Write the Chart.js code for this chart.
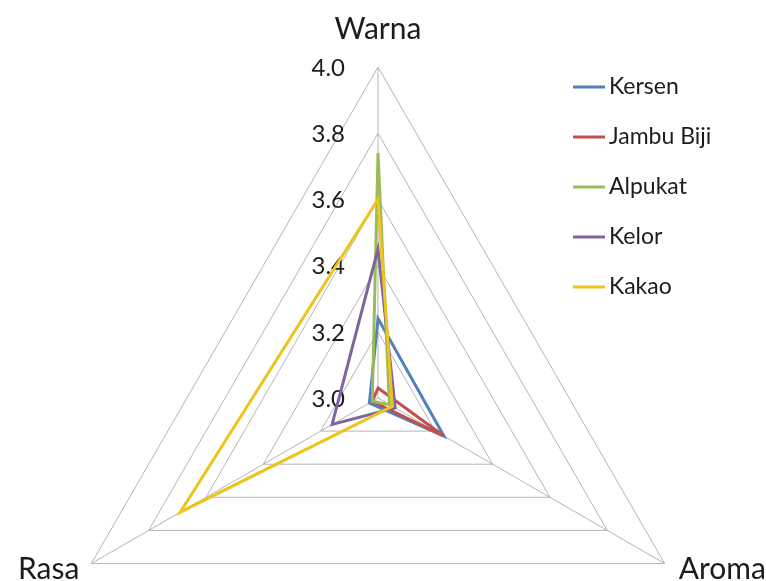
<!DOCTYPE html>
<html>
<head>
<meta charset="utf-8">
<script src="https://cdn.jsdelivr.net/npm/chart.js@4.4.0/dist/chart.umd.min.js"></script>
<style>
    html, body { margin: 0; padding: 0; background: #fff; overflow: hidden; }
    #wrap { position: relative; width: 766px; height: 581px; overflow: hidden; }
    canvas { position: absolute; left: 0; top: 0; }
</style>
</head>
<body>
<div id="wrap">
    <canvas id="radarChart" width="766" height="729"></canvas>
</div>
<script>
// Axis categories (clockwise from top)
const categories = ['Warna', 'Aroma', 'Rasa'];

// Series values, in the same order as categories
const seriesNames = ['Kersen', 'Jambu Biji', 'Alpukat', 'Kelor', 'Kakao'];
const kersen = [3.24, 3.23, 3.03];
const jambuBiji = [3.03, 3.23, 3.02];
const alpukat = [3.74, 3.04, 3.02];
const kelor = [3.45, 3.06, 3.16];
const kakao = [3.60, 3.05, 3.69];

// Radial tick labels
const tickValues = [3.0, 3.2, 3.4, 3.6, 3.8, 4.0];
const tickLabels = ['3.0', '3.2', '3.4', '3.6', '3.8', '4.0'];

const seriesColors = ['#4F81BD', '#C0504D', '#9BBB59', '#8064A2', '#EEC41C'];
const textFont = 'Lato, "Liberation Sans", sans-serif';

const seriesData = [kersen, jambuBiji, alpukat, kelor, kakao];

// Tick labels sit left of the vertical axis
const tickLabelPlugin = {
    id: 'tickLabelPlugin',
    beforeDatasetsDraw(chart) {
        const scale = chart.scales.r;
        const ctx = chart.ctx;
        ctx.save();
        ctx.font = '24px ' + textFont;
        ctx.fillStyle = '#1c1c1c';
        ctx.textAlign = 'right';
        ctx.textBaseline = 'middle';
        tickValues.forEach((v, i) => {
            const d = scale.getDistanceFromCenterForValue(v);
            ctx.fillText(tickLabels[i], scale.xCenter - 33, scale.yCenter - d + 1);
        });
        ctx.restore();
    }
};

// Category names at the outer corners
const axisLabelPlugin = {
    id: 'axisLabelPlugin',
    afterDraw(chart) {
        const scale = chart.scales.r;
        const ctx = chart.ctx;
        ctx.save();
        ctx.font = '30px ' + textFont;
        ctx.fillStyle = '#1c1c1c';
        ctx.textBaseline = 'alphabetic';
        categories.forEach((name, i) => {
            const p = scale.getPointPosition(i, scale.drawingArea);
            if (i === 0) {
                ctx.textAlign = 'center';
                ctx.fillText(name, p.x, p.y - 28);
            } else if (i === 1) {
                ctx.textAlign = 'left';
                ctx.fillText(name, p.x + 14, p.y + 15);
            } else {
                ctx.textAlign = 'right';
                ctx.fillText(name, p.x - 12, p.y + 15);
            }
        });
        ctx.restore();
    }
};

// Legend on the right, like the Excel one
const legendPlugin = {
    id: 'legendPlugin',
    afterDraw(chart) {
        const ctx = chart.ctx;
        ctx.save();
        ctx.font = '23px ' + textFont;
        ctx.textAlign = 'left';
        ctx.textBaseline = 'middle';
        seriesNames.forEach((name, i) => {
            const y = 87 + i * 50;
            ctx.strokeStyle = seriesColors[i];
            ctx.lineWidth = 3;
            ctx.beginPath();
            ctx.moveTo(573, y);
            ctx.lineTo(605, y);
            ctx.stroke();
            ctx.fillStyle = '#1c1c1c';
            ctx.fillText(name, 609, y);
        });
        ctx.restore();
    }
};

const ctx = document.getElementById('radarChart').getContext('2d');

new Chart(ctx, {
    type: 'radar',
    data: {
        labels: categories,
        datasets: seriesNames.map((name, i) => ({
            label: name,
            data: seriesData[i],
            borderColor: seriesColors[i],
            backgroundColor: 'transparent',
            borderWidth: 3,
            pointRadius: 0,
            fill: false,
            tension: 0,
            order: seriesNames.length - i
        }))
    },
    options: {
        responsive: false,
        animation: false,
        layout: {
            padding: { top: 67, left: 47, right: 57, bottom: 0 }
        },
        scales: {
            r: {
                min: 3.0,
                max: 4.0,
                ticks: { stepSize: 0.2, display: false },
                grid: { color: '#B5B5B5', lineWidth: 1 },
                angleLines: { color: '#B5B5B5', lineWidth: 1 },
                pointLabels: { display: false }
            }
        },
        plugins: {
            legend: { display: false },
            tooltip: { enabled: false }
        }
    },
    plugins: [tickLabelPlugin, axisLabelPlugin, legendPlugin]
});
</script>
</body>
</html>
